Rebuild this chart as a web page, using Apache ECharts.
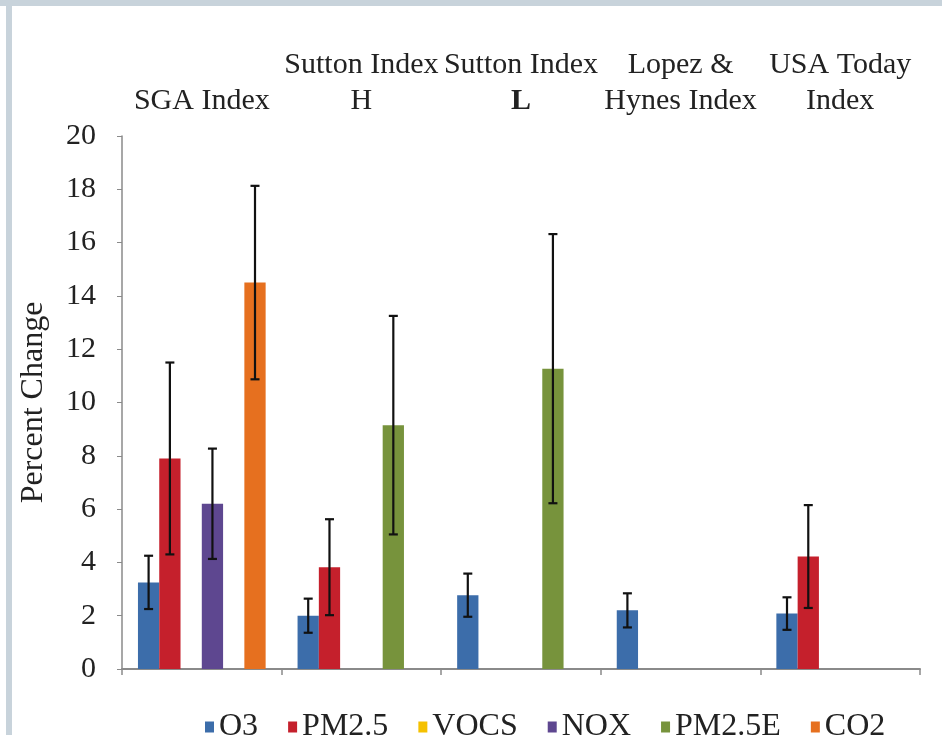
<!DOCTYPE html>
<html>
<head>
<meta charset="utf-8">
<script src="https://cdn.jsdelivr.net/npm/echarts@6/dist/echarts.min.js"></script>
<style>
html,body{margin:0;padding:0;background:#fff;}
#chart{width:942px;height:735px;}
</style>
</head>
<body>
<div id="chart"></div>
<script>
// ---- data ----
var categories = ['SGA Index', 'Sutton Index\nH', 'Sutton Index\nL', 'Lopez &\nHynes Index', 'USA Today\nIndex'];
var seriesNames = ['O3', 'PM2.5', 'VOCS', 'NOX', 'PM2.5E', 'CO2'];
var o3Values     = [3.25, 2.0, 2.77, 2.2, 2.08];
var o3Errors     = [1.0, 0.64, 0.81, 0.64, 0.61];
var pm25Values   = [7.9, 3.82, null, null, 4.22];
var pm25Errors   = [3.6, 1.8, null, null, 1.93];
var vocsValues   = [null, null, null, null, null];
var vocsErrors   = [null, null, null, null, null];
var noxValues    = [6.2, null, null, null, null];
var noxErrors    = [2.07, null, null, null, null];
var pm25eValues  = [null, 9.15, 11.27, null, null];
var pm25eErrors  = [null, 4.1, 5.05, null, null];
var co2Values    = [14.5, null, null, null, null];
var co2Errors    = [3.63, null, null, null, null];
var yTicks = [0, 2, 4, 6, 8, 10, 12, 14, 16, 18, 20];

var allValues = [o3Values, pm25Values, vocsValues, noxValues, pm25eValues, co2Values];
var allErrors = [o3Errors, pm25Errors, vocsErrors, noxErrors, pm25eErrors, co2Errors];
var colors = ['#3c6daa', '#c5202c', '#f5c100', '#5e4790', '#77933c', '#e6701f'];

var FONT = "'Liberation Serif', 'Times New Roman', serif";
var CAT_GAP = 0.2;

var series = [];
seriesNames.forEach(function (name, si) {
  series.push({
    name: name,
    type: 'bar',
    xAxisIndex: 0,
    yAxisIndex: 0,
    barGap: '0%',
    barCategoryGap: (CAT_GAP * 100) + '%',
    itemStyle: { color: colors[si] },
    data: allValues[si].map(function (v) { return v == null ? '-' : v; })
  });
});

seriesNames.forEach(function (name, si) {
  var data = [];
  allValues[si].forEach(function (v, i) {
    if (v != null && allErrors[si][i] != null) data.push([i, v, allErrors[si][i]]);
  });
  if (!data.length) return;
  series.push({
    type: 'custom',
    xAxisIndex: 0,
    yAxisIndex: 0,
    z: 10,
    silent: true,
    encode: { x: 0, y: 1 },
    data: data,
    renderItem: function (params, api) {
      var cat = api.value(0), v = api.value(1), e = api.value(2);
      var catW = api.size([1, 0])[0];
      var bw = catW * (1 - CAT_GAP) / seriesNames.length;
      var cx = api.coord([cat, v])[0] + (si - (seriesNames.length - 1) / 2) * bw;
      var yt = api.coord([cat, v + e])[1];
      var yb = api.coord([cat, v - e])[1];
      var hw = 4.5;
      var st = { stroke: '#111', lineWidth: 2.2 };
      return {
        type: 'group',
        children: [
          { type: 'line', shape: { x1: cx, y1: yt, x2: cx, y2: yb }, style: st },
          { type: 'line', shape: { x1: cx - hw, y1: yt, x2: cx + hw, y2: yt }, style: st },
          { type: 'line', shape: { x1: cx - hw, y1: yb, x2: cx + hw, y2: yb }, style: st }
        ]
      };
    }
  });
});

var chart = echarts.init(document.getElementById('chart'), null, { renderer: 'canvas' });
chart.setOption({
  backgroundColor: '#ffffff',
  animation: false,
  color: colors,
  textStyle: { fontFamily: FONT },
  grid: { left: 122, right: 22, top: 136, bottom: 66, containLabel: false },
  graphic: [
    { type: 'rect', shape: { x: 0, y: 0, width: 942, height: 6 }, style: { fill: '#c8d3db' }, z: 100 },
    { type: 'rect', shape: { x: 6, y: 0, width: 6, height: 735 }, style: { fill: '#c8d3db' }, z: 100 }
  ],
  legend: {
    data: seriesNames,
    left: 200,
    top: 706,
    itemWidth: 9,
    itemHeight: 11,
    itemGap: 30,
    icon: 'rect',
    textStyle: { fontFamily: FONT, fontSize: 32, color: '#222' }
  },
  xAxis: [
    {
      type: 'category',
      position: 'bottom',
      data: categories,
      axisLine: { show: true, lineStyle: { color: '#8a8a8a', width: 2 } },
      axisTick: { show: true, interval: 0, length: 6, lineStyle: { color: '#8a8a8a', width: 1.5 } },
      axisLabel: { show: false },
      splitLine: { show: false }
    },
    {
      type: 'category',
      position: 'top',
      data: categories,
      axisLine: { show: false },
      axisTick: { show: false },
      splitLine: { show: false },
      axisLabel: {
        interval: 0,
        margin: 17,
        fontFamily: FONT,
        fontSize: 30,
        lineHeight: 36,
        color: '#222',
        formatter: function (val) {
          var parts = val.split('\n');
          if (parts.length === 2 && parts[1] === 'L') {
            return '{n|' + parts[0] + '}\n{b|' + parts[1] + '}';
          }
          return parts.map(function (p) { return '{n|' + p + '}'; }).join('\n');
        },
        rich: {
          n: { fontFamily: FONT, fontSize: 30, lineHeight: 36, color: '#222' },
          b: { fontFamily: FONT, fontSize: 30, lineHeight: 36, color: '#222', fontWeight: 'bold' }
        }
      }
    }
  ],
  yAxis: {
    type: 'value',
    min: 0,
    max: 20,
    interval: 2,
    name: 'Percent Change',
    nameLocation: 'middle',
    nameGap: 72,
    nameTextStyle: { fontFamily: FONT, fontSize: 32, color: '#222' },
    axisLine: { show: true, lineStyle: { color: '#8a8a8a', width: 1.5 } },
    axisTick: { show: true, length: 5, lineStyle: { color: '#8a8a8a' } },
    splitLine: { show: false },
    axisLabel: {
      margin: 26,
      fontFamily: FONT,
      fontSize: 30,
      color: '#222',
      formatter: function (v) { return yTicks.indexOf(v) >= 0 ? String(v) : ''; }
    }
  },
  series: series
});
</script>
</body>
</html>
